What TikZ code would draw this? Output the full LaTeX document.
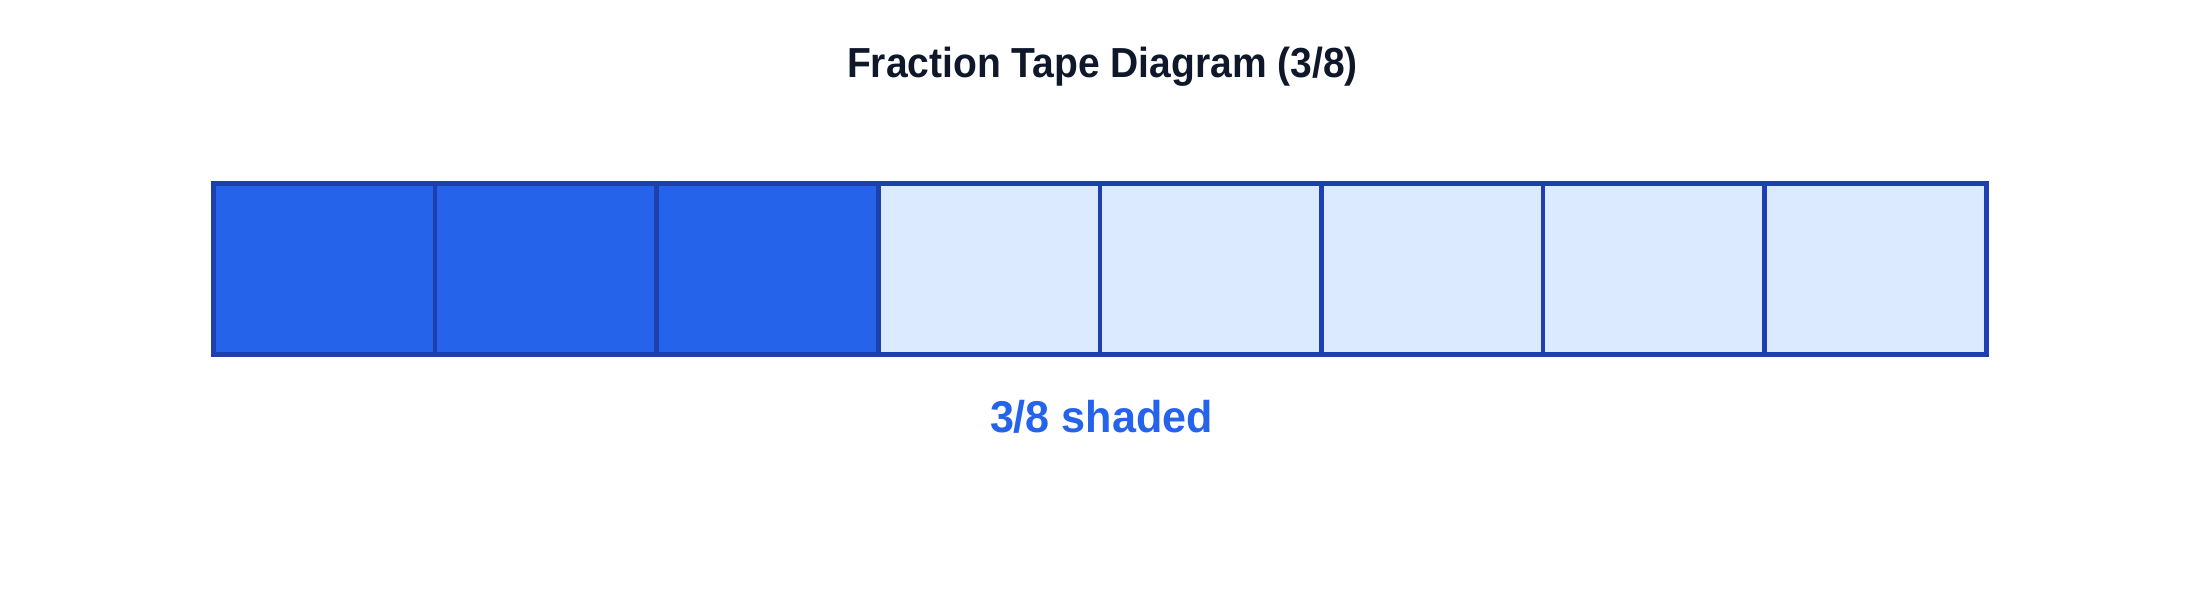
\documentclass[tikz,border=0pt]{standalone}
\usepackage{fontspec}
\setmainfont{Liberation Sans}
\definecolor{titlecol}{HTML}{0F172A}
\definecolor{strokecol}{HTML}{1E40AF}
\definecolor{shadecol}{HTML}{2563EB}
\definecolor{lightcol}{HTML}{DBEAFE}
\begin{document}
\begin{tikzpicture}[x=1pt,y=-1pt,
  cellbox/.style={draw=strokecol, line width=4.5pt, rectangle, inner sep=0pt,
    minimum width=221.6pt, minimum height=170.8pt},
  shaded/.style={cellbox, fill=shadecol},
  unshaded/.style={cellbox, fill=lightcol},
  titletext/.style={anchor=base, inner sep=0pt, text=titlecol},
  labeltext/.style={anchor=base, inner sep=0pt, text=shadecol}]
\useasboundingbox (0,0) rectangle (2200,599);
\fill[white] (0,0) rectangle (2200,599);
\node[titletext] (title) at (1102.5,78) {\resizebox{511pt}{\height}{\fontsize{42}{42}\selectfont\bfseries Fraction Tape Diagram (3/8)}};
\foreach \i in {0,1,2} {
  \node[shaded] (c\i) at ({213.5+221.6*\i+110.8},268.9) {};
}
\foreach \i in {3,...,7} {
  \node[unshaded] (c\i) at ({213.5+221.6*\i+110.8},268.9) {};
}
\node[labeltext] (label) at (1101.5,432) {\resizebox{223pt}{\height}{\fontsize{44.5}{44.5}\selectfont\bfseries 3/8 shaded}};
\end{tikzpicture}
\end{document}
